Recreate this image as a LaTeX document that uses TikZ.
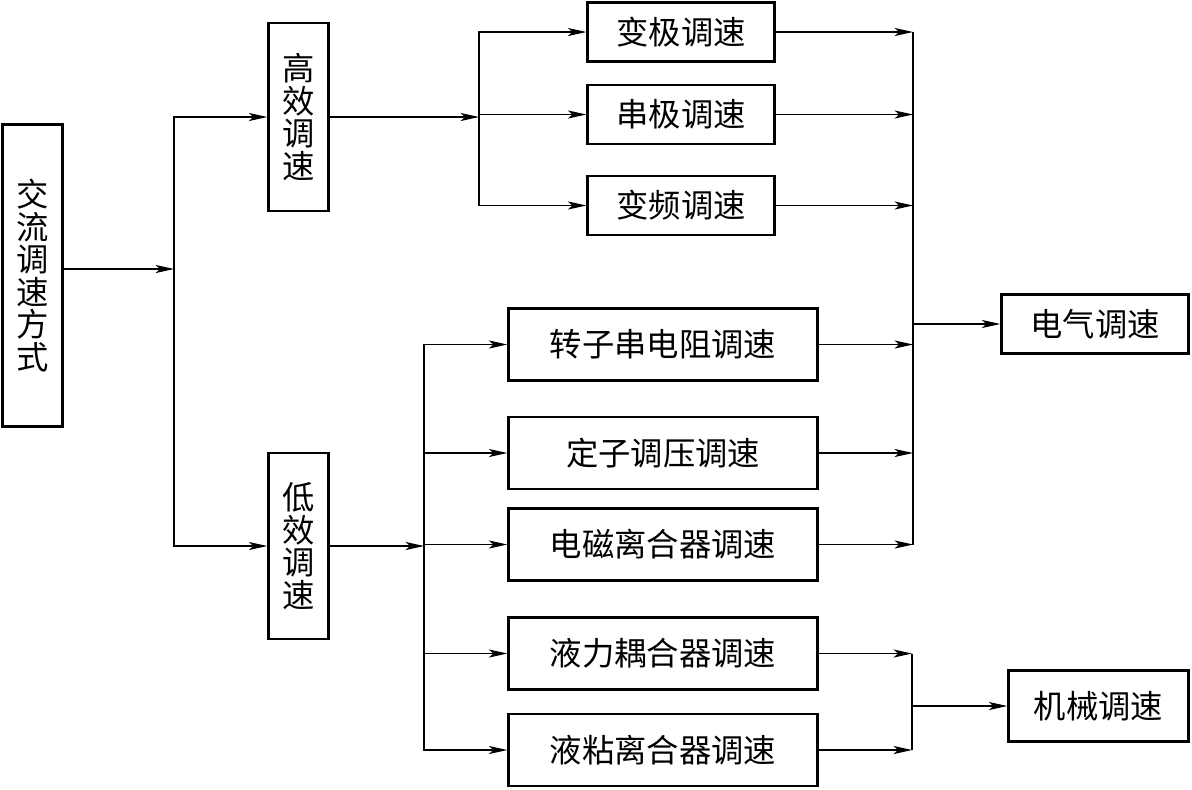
\documentclass[tikz,border=0pt]{standalone}
\usepackage{fontspec}
\newfontfamily\cjk{Noto Sans CJK SC}
\usetikzlibrary{arrows.meta,
                positioning}

\begin{document}
\begin{tikzpicture}[
        x=0.02cm, y=-0.02cm,
        every node/.style={font=\cjk\fontsize{18.4pt}{18.5pt}\selectfont},
        tallbox/.style={rectangle, minimum width=1.2cm, inner sep=0pt, align=center, text centered, draw=black, line width=1.4pt},
        shortbox/.style={rectangle, minimum width=3.74cm, minimum height=1.18cm, inner sep=0pt, text centered, draw=black, line width=1.4pt},
        longbox/.style={rectangle, minimum width=6.18cm, minimum height=1.44cm, inner sep=0pt, text centered, draw=black, line width=1.4pt},
        link/.style={arrows={-Stealth[length=10.5pt, width=4.6pt, inset=2.6pt]}, line width=0.6pt},
        wire/.style={line width=0.6pt}
        ]

        \useasboundingbox (0,0) rectangle (1192,789);

        % left part
        \node (jiaoliu)  [tallbox, minimum height=6.04cm] at (32.5,275.5)  {交\\流\\调\\速\\方\\式};
        \node (gaoxiao)  [tallbox, minimum height=3.76cm] at (298.5,117)   {高\\效\\调\\速};
        \node (dixiao)   [tallbox, minimum height=3.72cm] at (298.5,546)   {低\\效\\调\\速};

        % middle column
        \node (bianji)   [shortbox] at (681,32)    {变极调速};
        \node (chuanji)  [shortbox] at (681,114.5) {串极调速};
        \node (bianpin)  [shortbox] at (681,205.5) {变频调速};
        \node (zhuanzi)  [longbox]  at (663,344.5) {转子串电阻调速};
        \node (dingzi)   [longbox]  at (663,453)   {定子调压调速};
        \node (dianci)   [longbox]  at (663,544.5) {电磁离合器调速};
        \node (yeli)     [longbox]  at (663,653.5) {液力耦合器调速};
        \node (yenian)   [longbox]  at (663,750)   {液粘离合器调速};

        % right part
        \node (dianqi)   [shortbox] at (1095,324)  {电气调速};
        \node (jixie)    [shortbox, minimum width=3.6cm, minimum height=1.42cm] at (1098.5,706) {机械调速};

        \coordinate (j1) at (174,269);
        \coordinate (j2) at (479,117);
        \coordinate (j3) at (424,546);
        \coordinate (j4) at (913,324);
        \coordinate (j5) at (912,706);

        \draw [link] (jiaoliu.east |- j1) -- (j1);
        \draw [link] (j1) |- (gaoxiao);
        \draw [link] (j1) |- (dixiao);

        \draw [link] (gaoxiao) -- (j2);
        \draw [link] (j2) |- (bianji);
        \draw [link] (j2) |- (chuanji);
        \draw [link] (j2) |- (bianpin);

        \draw [link] (dixiao) -- (j3);
        \draw [link] (j3) |- (zhuanzi);
        \draw [link] (j3) |- (dingzi);
        \draw [link] (j3) |- (dianci);
        \draw [link] (j3) |- (yeli);
        \draw [link] (j3) |- (yenian);

        \draw [link] (bianji)  -- (bianji -| j4);
        \draw [link] (chuanji) -- (chuanji -| j4);
        \draw [link] (bianpin) -- (bianpin -| j4);
        \draw [link] (zhuanzi) -- (zhuanzi -| j4);
        \draw [link] (dingzi)  -- (dingzi -| j4);
        \draw [link] (dianci)  -- (dianci -| j4);
        \draw [wire] (bianji -| j4) -- (dianci -| j4);
        \draw [link] (j4) -- (dianqi);

        \draw [link] (yeli)   -- (yeli -| j5);
        \draw [link] (yenian) -- (yenian -| j5);
        \draw [wire] (yeli -| j5) -- (yenian -| j5);
        \draw [link] (j5) -- (jixie);

    \end{tikzpicture}
\end{document}
